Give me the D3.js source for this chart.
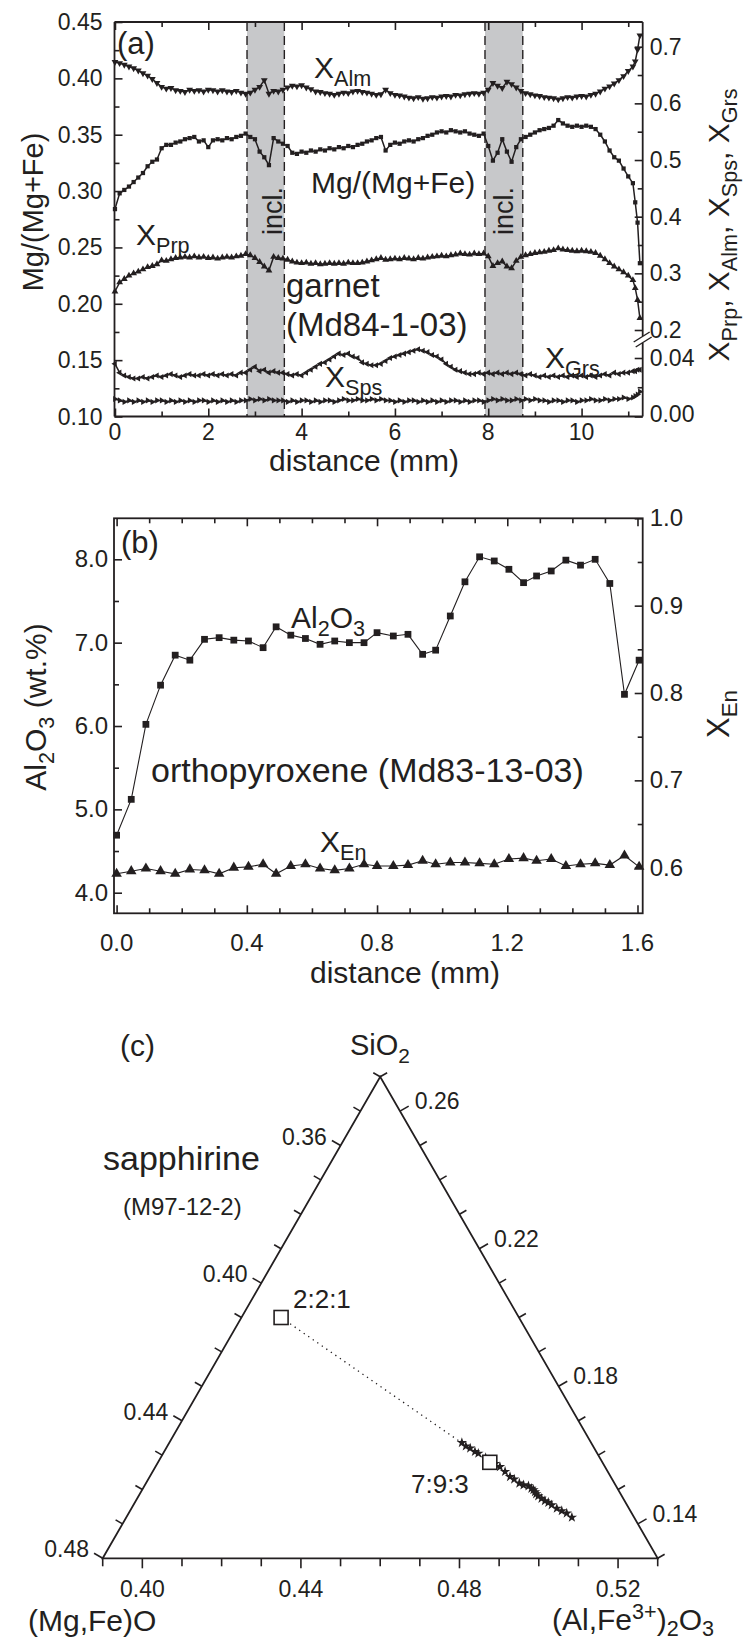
<!DOCTYPE html>
<html>
<head>
<meta charset="utf-8">
<script src="https://cdn.jsdelivr.net/npm/d3@7/dist/d3.min.js"></script>
<style>
html,body{margin:0;padding:0;background:#fff;}
svg{display:block;}
</style>
</head>
<body>
<svg id="chart" width="743" height="1644"></svg>
<script>
// ================= DATA =================
// (a) garnet profile, distance in mm
const distA = [
0.0,0.1,0.2,0.3,0.4,0.5,0.6,0.7,0.8,0.9,
1.0,1.1,1.2,1.3,1.4,1.5,1.6,1.7,1.8,1.9,
2.0,2.1,2.2,2.3,2.4,2.5,2.6,2.7,2.8,2.9,
3.0,3.1,3.2,3.3,3.4,3.5,3.6,3.7,3.8,3.9,
4.0,4.1,4.2,4.3,4.4,4.5,4.6,4.7,4.8,4.9,
5.0,5.1,5.2,5.3,5.4,5.5,5.6,5.7,5.8,5.9,
6.0,6.1,6.2,6.3,6.4,6.5,6.6,6.7,6.8,6.9,
7.0,7.1,7.2,7.3,7.4,7.5,7.6,7.7,7.8,7.9,
8.0,8.1,8.2,8.3,8.4,8.5,8.6,8.7,8.8,8.9,
9.0,9.1,9.2,9.3,9.4,9.5,9.6,9.7,9.8,9.9,
10.0,10.1,10.2,10.3,10.4,10.5,10.6,10.7,10.8,10.9,
11.0,11.1,11.15,11.2,11.25];
const xAlm = [
0.673,0.671,0.668,0.665,0.662,0.658,0.653,0.649,0.643,0.636,
0.629,0.626,0.627,0.623,0.622,0.620,0.624,0.622,0.623,0.621,
0.624,0.623,0.621,0.623,0.621,0.620,0.622,0.619,0.617,0.619,
0.624,0.629,0.641,0.617,0.622,0.621,0.624,0.628,0.631,0.630,
0.632,0.628,0.625,0.621,0.620,0.618,0.617,0.615,0.617,0.619,
0.618,0.621,0.622,0.620,0.619,0.617,0.615,0.616,0.624,0.618,
0.615,0.614,0.612,0.610,0.609,0.611,0.608,0.609,0.611,0.610,
0.612,0.613,0.612,0.615,0.614,0.616,0.617,0.618,0.617,0.619,
0.624,0.636,0.631,0.627,0.638,0.634,0.628,0.622,0.618,0.616,
0.614,0.613,0.611,0.610,0.609,0.607,0.609,0.611,0.610,0.612,
0.613,0.612,0.615,0.617,0.621,0.626,0.630,0.635,0.641,0.648,
0.657,0.665,0.674,0.695,0.720];
const mgNumber = [
0.284,0.298,0.301,0.304,0.308,0.312,0.316,0.322,0.326,0.328,
0.338,0.341,0.341,0.343,0.344,0.346,0.347,0.348,0.344,0.345,
0.339,0.345,0.346,0.345,0.347,0.346,0.348,0.349,0.351,0.348,
0.346,0.335,0.330,0.323,0.347,0.344,0.342,0.340,0.334,0.333,
0.335,0.334,0.336,0.335,0.337,0.336,0.338,0.337,0.339,0.338,
0.340,0.339,0.341,0.342,0.344,0.345,0.347,0.348,0.336,0.341,
0.343,0.342,0.344,0.345,0.344,0.346,0.347,0.349,0.350,0.352,
0.353,0.352,0.354,0.353,0.352,0.353,0.351,0.350,0.349,0.351,
0.340,0.327,0.334,0.346,0.335,0.326,0.339,0.346,0.348,0.350,
0.352,0.354,0.355,0.356,0.358,0.363,0.360,0.358,0.357,0.358,
0.357,0.358,0.357,0.355,0.350,0.344,0.336,0.330,0.327,0.320,
0.313,0.307,0.290,0.272,0.236];
const xPrp = [
0.268,0.284,0.290,0.296,0.300,0.303,0.307,0.311,0.313,0.316,
0.323,0.322,0.325,0.327,0.328,0.329,0.328,0.330,0.328,0.329,
0.327,0.328,0.326,0.328,0.329,0.328,0.330,0.331,0.334,0.332,
0.327,0.320,0.312,0.305,0.329,0.327,0.326,0.324,0.321,0.319,
0.318,0.319,0.317,0.318,0.316,0.317,0.318,0.317,0.318,0.317,
0.319,0.318,0.318,0.319,0.321,0.323,0.325,0.327,0.324,0.325,
0.326,0.325,0.327,0.326,0.325,0.327,0.326,0.328,0.329,0.330,
0.331,0.330,0.332,0.333,0.335,0.334,0.333,0.335,0.334,0.335,
0.330,0.313,0.318,0.321,0.312,0.309,0.322,0.329,0.332,0.334,
0.336,0.337,0.338,0.340,0.341,0.344,0.342,0.341,0.340,0.339,
0.340,0.339,0.338,0.336,0.331,0.325,0.318,0.312,0.307,0.302,
0.296,0.288,0.274,0.253,0.221];
const xGrs = [
0.036,0.030,0.028,0.027,0.026,0.026,0.027,0.026,0.027,0.028,
0.027,0.028,0.029,0.028,0.027,0.028,0.029,0.028,0.028,0.029,
0.028,0.029,0.028,0.029,0.028,0.029,0.028,0.030,0.030,0.032,
0.034,0.031,0.032,0.030,0.031,0.030,0.030,0.029,0.028,0.029,
0.028,0.030,0.032,0.034,0.036,0.037,0.039,0.041,0.043,0.042,
0.043,0.041,0.040,0.037,0.036,0.035,0.035,0.036,0.038,0.040,
0.041,0.042,0.043,0.044,0.045,0.046,0.045,0.044,0.042,0.041,
0.039,0.036,0.034,0.032,0.031,0.030,0.029,0.029,0.030,0.029,
0.030,0.029,0.030,0.029,0.030,0.029,0.030,0.029,0.028,0.029,
0.028,0.027,0.028,0.027,0.028,0.027,0.028,0.027,0.028,0.027,
0.028,0.027,0.028,0.027,0.028,0.029,0.028,0.030,0.029,0.030,
0.030,0.031,0.031,0.032,0.032];
const xSps = [
0.012,0.011,0.010,0.011,0.010,0.011,0.010,0.011,0.010,0.011,
0.011,0.010,0.011,0.010,0.011,0.010,0.011,0.010,0.011,0.011,
0.010,0.011,0.010,0.011,0.010,0.011,0.010,0.011,0.011,0.012,
0.011,0.012,0.011,0.012,0.011,0.011,0.011,0.010,0.011,0.010,
0.011,0.011,0.010,0.011,0.010,0.011,0.011,0.010,0.011,0.012,
0.011,0.011,0.012,0.011,0.011,0.012,0.011,0.012,0.011,0.011,
0.010,0.011,0.010,0.011,0.011,0.010,0.011,0.010,0.011,0.010,
0.011,0.010,0.011,0.011,0.010,0.011,0.010,0.011,0.011,0.010,
0.011,0.012,0.011,0.012,0.011,0.011,0.012,0.011,0.012,0.011,
0.012,0.011,0.011,0.010,0.011,0.011,0.010,0.011,0.011,0.010,
0.011,0.011,0.012,0.011,0.011,0.012,0.011,0.012,0.012,0.013,
0.012,0.013,0.014,0.015,0.017];
const inclusionBands = [[2.83, 3.63], [7.93, 8.74]];
const aXTicks = [0, 2, 4, 6, 8, 10];
const aXMinor = [1, 3, 5, 7, 9, 11];
const aYTicks = [0.10, 0.15, 0.20, 0.25, 0.30, 0.35, 0.40, 0.45];
const aYMinor = [0.125, 0.175, 0.225, 0.275, 0.325, 0.375, 0.425];
const aRUpTicks = [0.2, 0.3, 0.4, 0.5, 0.6, 0.7];
const aRUpMinor = [0.25, 0.35, 0.45, 0.55, 0.65];
const aRLowTicks = [0.00, 0.04];
const aRLowMinor = [0.02];

// (b) orthopyroxene profile
const distB = [0.00,0.045,0.09,0.135,0.18,0.225,0.27,0.315,0.36,0.405,0.45,0.49,0.535,0.58,0.625,0.67,0.715,0.76,0.80,0.85,0.895,0.94,0.98,1.025,1.07,1.115,1.16,1.205,1.25,1.29,1.335,1.38,1.425,1.47,1.515,1.56,1.605];
const al2o3 = [4.69,5.12,6.02,6.49,6.85,6.79,7.04,7.06,7.03,7.02,6.94,7.19,7.09,7.05,6.98,7.02,7.00,7.00,7.12,7.08,7.10,6.86,6.91,7.32,7.73,8.03,7.98,7.88,7.72,7.80,7.86,7.99,7.93,8.00,7.71,6.38,6.79];
const xEn = [0.593,0.596,0.599,0.596,0.593,0.598,0.597,0.593,0.600,0.601,0.604,0.593,0.602,0.604,0.599,0.597,0.599,0.604,0.602,0.602,0.603,0.608,0.604,0.606,0.606,0.605,0.604,0.610,0.611,0.608,0.610,0.602,0.604,0.605,0.603,0.614,0.601];
const bXTicks = [0.0, 0.4, 0.8, 1.2, 1.6];
const bXMinor = [0.1,0.2,0.3,0.5,0.6,0.7,0.9,1.0,1.1,1.3,1.4,1.5];
const bYTicks = [4.0, 5.0, 6.0, 7.0, 8.0];
const bYMinor = [4.5, 5.5, 6.5, 7.5];
const bRTicks = [0.6, 0.7, 0.8, 0.9, 1.0];
const bRMinor = [0.65, 0.75, 0.85, 0.95];

// (c) sapphirine ternary: SiO2 and (Al,Fe3+)2O3 fractions; (Mg,Fe)O = remainder
const starSiO2  = [0.1636,0.1626,0.1620,0.1610,0.1605,0.1592,0.1581,0.1575,0.1566,0.1552,0.1537,0.1530,0.1518,0.1513,0.1510,0.1503,0.1499,0.1493,0.1487,0.1481,0.1474,0.1467,0.1462,0.1455,0.1445,0.1438,0.1431,0.1419];
const starAl2O3 = [0.4638,0.4653,0.4667,0.4684,0.4695,0.4720,0.4741,0.4752,0.4769,0.4789,0.4809,0.4823,0.4842,0.4855,0.4869,0.4880,0.4887,0.4894,0.4900,0.4908,0.4920,0.4932,0.4943,0.4955,0.4973,0.4989,0.5005,0.5024];
const refNames = ["2:2:1", "7:9:3"];
const refSiO2  = [0.2000, 0.1579];
const refAl2O3 = [0.4000, 0.4737];
const cBottomTicks = [0.40, 0.44, 0.48, 0.52];
const cBottomMinor = [0.39,0.41,0.42,0.43,0.45,0.46,0.47,0.49,0.50,0.51,0.53];
const cLeftTicks = [0.36, 0.40, 0.44, 0.48];
const cLeftMinor = [0.34,0.35,0.37,0.38,0.39,0.41,0.42,0.43,0.45,0.46,0.47];
const cRightTicks = [0.14, 0.18, 0.22, 0.26];
const cRightMinor = [0.13,0.15,0.16,0.17,0.19,0.20,0.21,0.23,0.24,0.25,0.27];

// ================= DRAW =================
const INK = "#231f20";
const FONT = "'Liberation Sans', Arial, Helvetica, sans-serif";
const svg = d3.select("#chart").style("font-family", FONT);

function rich(parent, x, y, parts, size, anchor, subShift) {
  const t = parent.append("text").attr("x", x).attr("y", y)
    .attr("font-size", size).attr("fill", INK).attr("text-anchor", anchor || "start");
  let cur = 0;
  const sb = subShift || 0.26;
  parts.forEach(p => {
    const str = Array.isArray(p) ? p[0] : p;
    const kind = Array.isArray(p) ? p[1] : null;
    const target = kind === "sub" ? size * sb : (kind === "sup" ? -size * 0.38 : 0);
    const ts = t.append("tspan").text(str);
    if (target - cur !== 0) ts.attr("dy", target - cur);
    if (kind) ts.attr("font-size", size * 0.72);
    cur = target;
  });
  return t;
}
function richV(parent, x, y, parts, size) {
  const g = parent.append("g").attr("transform", `translate(${x},${y}) rotate(-90)`);
  return rich(g, 0, 0, parts, size, "middle");
}
function tickAxis(parent, axisFn, scale, values, len, tx, ty) {
  parent.append("g").attr("transform", `translate(${tx},${ty})`)
    .call(axisFn(scale).tickValues(values).tickSize(-len).tickFormat(""))
    .call(g => {
      g.select(".domain").remove();
      g.selectAll("text").remove();
      g.selectAll("line").attr("stroke", INK).attr("stroke-width", 1.6);
    });
}
function labels(parent, values, fmt, xf, yf, size, anchor) {
  parent.append("g").selectAll("text").data(values).join("text")
    .attr("x", xf).attr("y", yf).attr("font-size", size)
    .attr("fill", INK).attr("text-anchor", anchor).text(d => fmt(d));
}
function sym(type, size, rot) {
  return { path: d3.symbol().type(type).size(size)(), rot: rot };
}

// ---------- Panel (a) ----------
const A = { l: 114.5, r: 642.7, t: 22, b: 416.5 };
const xA = d3.scaleLinear().domain([-0.01, 11.31]).range([A.l, A.r]);
const yL = d3.scaleLinear().domain([0.10, 0.45]).range([A.b, A.t]);
const yRU = d3.scaleLinear().domain([0.2, 0.7]).range([330, 46.7]);
const yRL = d3.scaleLinear().domain([0, 0.04]).range([A.b, 358]);
const gA = svg.append("g");

gA.selectAll("rect.band").data(inclusionBands).join("rect")
  .attr("x", d => xA(d[0])).attr("width", d => xA(d[1]) - xA(d[0]))
  .attr("y", A.t).attr("height", A.b - A.t).attr("fill", "#c7c8ca");
gA.append("g").selectAll("line").data(inclusionBands.flat()).join("line")
  .attr("x1", d => xA(d)).attr("x2", d => xA(d)).attr("y1", A.t).attr("y2", A.b)
  .attr("stroke", INK).attr("stroke-width", 1.4).attr("stroke-dasharray", "9,5");

const seriesA = [
  { vals: xAlm, y: yRU, m: sym(d3.symbolTriangle, 20, 180) },
  { vals: mgNumber, y: yL, m: sym(d3.symbolSquare, 18, 0) },
  { vals: xPrp, y: yRU, m: sym(d3.symbolTriangle, 20, 0) },
  { vals: xGrs, y: yRL, m: sym(d3.symbolTriangle, 16, -90) },
  { vals: xSps, y: yRL, m: sym(d3.symbolTriangle, 16, 90) }
];
seriesA.forEach(s => {
  gA.append("path").datum(s.vals)
    .attr("d", d3.line().x((d, i) => xA(distA[i])).y(d => s.y(d)))
    .attr("fill", "none").attr("stroke", INK).attr("stroke-width", 1.5);
  gA.append("g").selectAll("path").data(s.vals).join("path")
    .attr("d", s.m.path).attr("fill", INK)
    .attr("transform", (d, i) => `translate(${xA(distA[i])},${s.y(d)}) rotate(${s.m.rot})`);
});

// frame (a)
const frameA = gA.append("g").attr("stroke", INK).attr("stroke-width", 1.8).attr("fill", "none");
frameA.append("line").attr("x1", A.l).attr("x2", A.r).attr("y1", A.t).attr("y2", A.t);
frameA.append("line").attr("x1", A.l).attr("x2", A.r).attr("y1", A.b).attr("y2", A.b);
frameA.append("line").attr("x1", A.l).attr("x2", A.l).attr("y1", A.t).attr("y2", A.b);
frameA.append("line").attr("x1", A.r).attr("x2", A.r).attr("y1", A.t).attr("y2", 336);
frameA.append("line").attr("x1", A.r).attr("x2", A.r).attr("y1", 343).attr("y2", A.b);
frameA.append("line").attr("x1", A.r - 9).attr("y1", 342).attr("x2", A.r + 7).attr("y2", 332).attr("stroke-width", 1.4);
frameA.append("line").attr("x1", A.r - 7).attr("y1", 347).attr("x2", A.r + 9).attr("y2", 337).attr("stroke-width", 1.4);

tickAxis(gA, d3.axisBottom, xA, aXTicks, 8, 0, A.b);
tickAxis(gA, d3.axisBottom, xA, aXMinor, 5, 0, A.b);
tickAxis(gA, d3.axisTop, xA, aXTicks, 8, 0, A.t);
tickAxis(gA, d3.axisTop, xA, aXMinor, 5, 0, A.t);
tickAxis(gA, d3.axisLeft, yL, aYTicks, 8, A.l, 0);
tickAxis(gA, d3.axisLeft, yL, aYMinor, 5, A.l, 0);
tickAxis(gA, d3.axisRight, yRU, aRUpTicks, 8, A.r, 0);
tickAxis(gA, d3.axisRight, yRU, aRUpMinor, 5, A.r, 0);
tickAxis(gA, d3.axisRight, yRL, aRLowTicks, 8, A.r, 0);
tickAxis(gA, d3.axisRight, yRL, aRLowMinor, 5, A.r, 0);

labels(gA, aXTicks, d3.format("d"), d => xA(d), 440, 23, "middle");
labels(gA, aYTicks, d3.format(".2f"), A.l - 12, d => yL(d) + 8, 23, "end");
labels(gA, aRUpTicks, d3.format(".1f"), A.r + 7, d => yRU(d) + 8, 23, "start");
labels(gA, aRLowTicks, d3.format(".2f"), A.r + 7, d => yRL(d) + 8 - (d === 0 ? 3 : 0), 23, "start");

rich(gA, 364, 471, ["distance (mm)"], 30, "middle");
richV(gA, 43, 212, ["Mg/(Mg+Fe)"], 29);
richV(gA, 729, 225, ["X", ["Prp", "sub"], ", X", ["Alm", "sub"], ", X", ["Sps", "sub"], ", X", ["Grs", "sub"]], 30);

rich(gA, 117, 54, ["(a)"], 31);
rich(gA, 314, 78, ["X", ["Alm", "sub"]], 30);
rich(gA, 311, 193, ["Mg/(Mg+Fe)"], 30);
rich(gA, 136, 245, ["X", ["Prp", "sub"]], 30);
rich(gA, 286, 297, ["garnet"], 33);
rich(gA, 286, 336, ["(Md84-1-03)"], 33);
rich(gA, 325, 387, ["X", ["Sps", "sub"]], 30);
rich(gA, 545, 368, ["X", ["Grs", "sub"]], 30);
richV(gA, 282, 211, ["incl."], 27);
richV(gA, 513, 211, ["incl."], 27);

// ---------- Panel (b) ----------
const B = { l: 114, r: 642.7, t: 518.3, b: 913.3 };
const xB = d3.scaleLinear().domain([-0.008, 1.616]).range([B.l, B.r]);
const yB = d3.scaleLinear().domain([3.753, 8.492]).range([B.b, B.t]);
const yE = d3.scaleLinear().domain([0.5478, 1.0]).range([B.b, B.t]);
const gB = svg.append("g");

gB.append("path").datum(al2o3)
  .attr("d", d3.line().x((d, i) => xB(distB[i])).y(d => yB(d)))
  .attr("fill", "none").attr("stroke", INK).attr("stroke-width", 1.1);
gB.append("g").selectAll("path").data(al2o3).join("path")
  .attr("d", d3.symbol().type(d3.symbolSquare).size(46)()).attr("fill", INK)
  .attr("transform", (d, i) => `translate(${xB(distB[i])},${yB(d)})`);
gB.append("path").datum(xEn)
  .attr("d", d3.line().x((d, i) => xB(distB[i])).y(d => yE(d)))
  .attr("fill", "none").attr("stroke", INK).attr("stroke-width", 1.1);
gB.append("g").selectAll("path").data(xEn).join("path")
  .attr("d", d3.symbol().type(d3.symbolTriangle).size(48)()).attr("fill", INK)
  .attr("transform", (d, i) => `translate(${xB(distB[i])},${yE(d)})`);

gB.append("rect").attr("x", B.l).attr("y", B.t).attr("width", B.r - B.l).attr("height", B.b - B.t)
  .attr("fill", "none").attr("stroke", INK).attr("stroke-width", 1.8);
tickAxis(gB, d3.axisBottom, xB, bXTicks, 8, 0, B.b);
tickAxis(gB, d3.axisBottom, xB, bXMinor, 5, 0, B.b);
tickAxis(gB, d3.axisTop, xB, bXTicks, 8, 0, B.t);
tickAxis(gB, d3.axisTop, xB, bXMinor, 5, 0, B.t);
tickAxis(gB, d3.axisLeft, yB, bYTicks, 8, B.l, 0);
tickAxis(gB, d3.axisLeft, yB, bYMinor, 5, B.l, 0);
tickAxis(gB, d3.axisRight, yE, bRTicks, 8, B.r, 0);
tickAxis(gB, d3.axisRight, yE, bRMinor, 5, B.r, 0);

labels(gB, bXTicks, d3.format(".1f"), d => xB(d), 951, 24, "middle");
labels(gB, bYTicks, d3.format(".1f"), B.l - 6, d => yB(d) + 8, 24, "end");
labels(gB, bRTicks, d3.format(".1f"), B.r + 7, d => yE(d) + 8, 24, "start");

rich(gB, 405, 983, ["distance (mm)"], 30, "middle");
richV(gB, 46, 707, ["Al", ["2", "sub"], "O", ["3", "sub"], " (wt.%)"], 30);
richV(gB, 729, 714, ["X", ["En", "sub"]], 31);

rich(gB, 121, 553, ["(b)"], 31);
rich(gB, 291, 628, ["Al", ["2", "sub"], "O", ["3", "sub"]], 30);
rich(gB, 151, 782, ["orthopyroxene (Md83-13-03)"], 34);
rich(gB, 320, 852, ["X", ["En", "sub"]], 30);

// ---------- Panel (c) ternary ----------
const T = { A: [380.2, 1076.7], L: [102.7, 1558.3], R: [657.7, 1558.3] };
const wS = d3.scaleLinear().domain([0.13, 0.27]).range([0, 1]);
const wAl = d3.scaleLinear().domain([0.39, 0.53]).range([0, 1]);
const wMg = d3.scaleLinear().domain([0.34, 0.48]).range([0, 1]);
function tern(s, a) {
  const m = 1 - s - a;
  const ws = wS(s), wa = wAl(a), wm = wMg(m);
  return [ws * T.A[0] + wm * T.L[0] + wa * T.R[0], ws * T.A[1] + wm * T.L[1] + wa * T.R[1]];
}
const gC = svg.append("g");
gC.append("path").attr("d", `M${T.L[0]},${T.L[1]}L${T.A[0]},${T.A[1]}L${T.R[0]},${T.R[1]}Z`)
  .attr("fill", "none").attr("stroke", INK).attr("stroke-width", 1.8).attr("stroke-linejoin", "miter");

const edges = {
  bottom: { pos: v => tern(0.13, v), n: [0, 1], major: cBottomTicks, minor: cBottomMinor },
  left:   { pos: v => tern(1 - 0.39 - v, 0.39), n: [-0.8665, -0.4993], major: cLeftTicks, minor: cLeftMinor },
  right:  { pos: v => tern(v, 1 - 0.34 - v), n: [0.8665, -0.4993], major: cRightTicks, minor: cRightMinor }
};
Object.values(edges).forEach(e => {
  [[e.major, 10], [e.minor, 8]].forEach(([vals, len]) => {
    gC.append("g").selectAll("line").data(vals).join("line")
      .attr("x1", d => e.pos(d)[0]).attr("y1", d => e.pos(d)[1])
      .attr("x2", d => e.pos(d)[0] + e.n[0] * len).attr("y2", d => e.pos(d)[1] + e.n[1] * len)
      .attr("stroke", INK).attr("stroke-width", 1.6);
  });
});
const f2 = d3.format(".2f");
labels(gC, cBottomTicks, f2, d => edges.bottom.pos(d)[0], 1597, 23, "middle");
labels(gC, cLeftTicks, f2, d => edges.left.pos(d)[0] - 8.7 - 5, d => edges.left.pos(d)[1] - 5 + 4, 23, "end");
labels(gC, cRightTicks, f2, d => edges.right.pos(d)[0] + 8.7 + 6, d => edges.right.pos(d)[1] - 5 + 3, 23, "start");

// dotted tie line
const p0 = tern(refSiO2[0], refAl2O3[0]), p1 = tern(refSiO2[1], refAl2O3[1]);
gC.append("line").attr("x1", p0[0]).attr("y1", p0[1]).attr("x2", p1[0]).attr("y2", p1[1])
  .attr("stroke", INK).attr("stroke-width", 1.3).attr("stroke-dasharray", "1.3,4.2");
// stars
gC.append("g").selectAll("path").data(starSiO2).join("path")
  .attr("d", d3.symbol().type(d3.symbolStar).size(34)()).attr("fill", INK)
  .attr("transform", (d, i) => { const p = tern(d, starAl2O3[i]); return `translate(${p[0]},${p[1]})`; });
// reference squares
gC.append("g").selectAll("rect").data(refSiO2).join("rect")
  .attr("x", (d, i) => tern(d, refAl2O3[i])[0] - 7).attr("y", (d, i) => tern(d, refAl2O3[i])[1] - 7)
  .attr("width", 14).attr("height", 14).attr("fill", "#fff").attr("stroke", INK).attr("stroke-width", 1.6);

rich(gC, 293, 1308, [refNames[0]], 26);
rich(gC, 411, 1493, [refNames[1]], 26);
rich(gC, 120, 1056, ["(c)"], 30);
rich(gC, 350, 1055, ["SiO", ["2", "sub"]], 29);
rich(gC, 103, 1170, ["sapphirine"], 34);
rich(gC, 123, 1215, ["(M97-12-2)"], 24);
rich(gC, 28, 1631, ["(Mg,Fe)O"], 30);
rich(gC, 552, 1630, ["(Al,Fe", ["3+", "sup"], ")", ["2", "sub"], "O", ["3", "sub"]], 30, "start", 0.2);
</script>
</body>
</html>
